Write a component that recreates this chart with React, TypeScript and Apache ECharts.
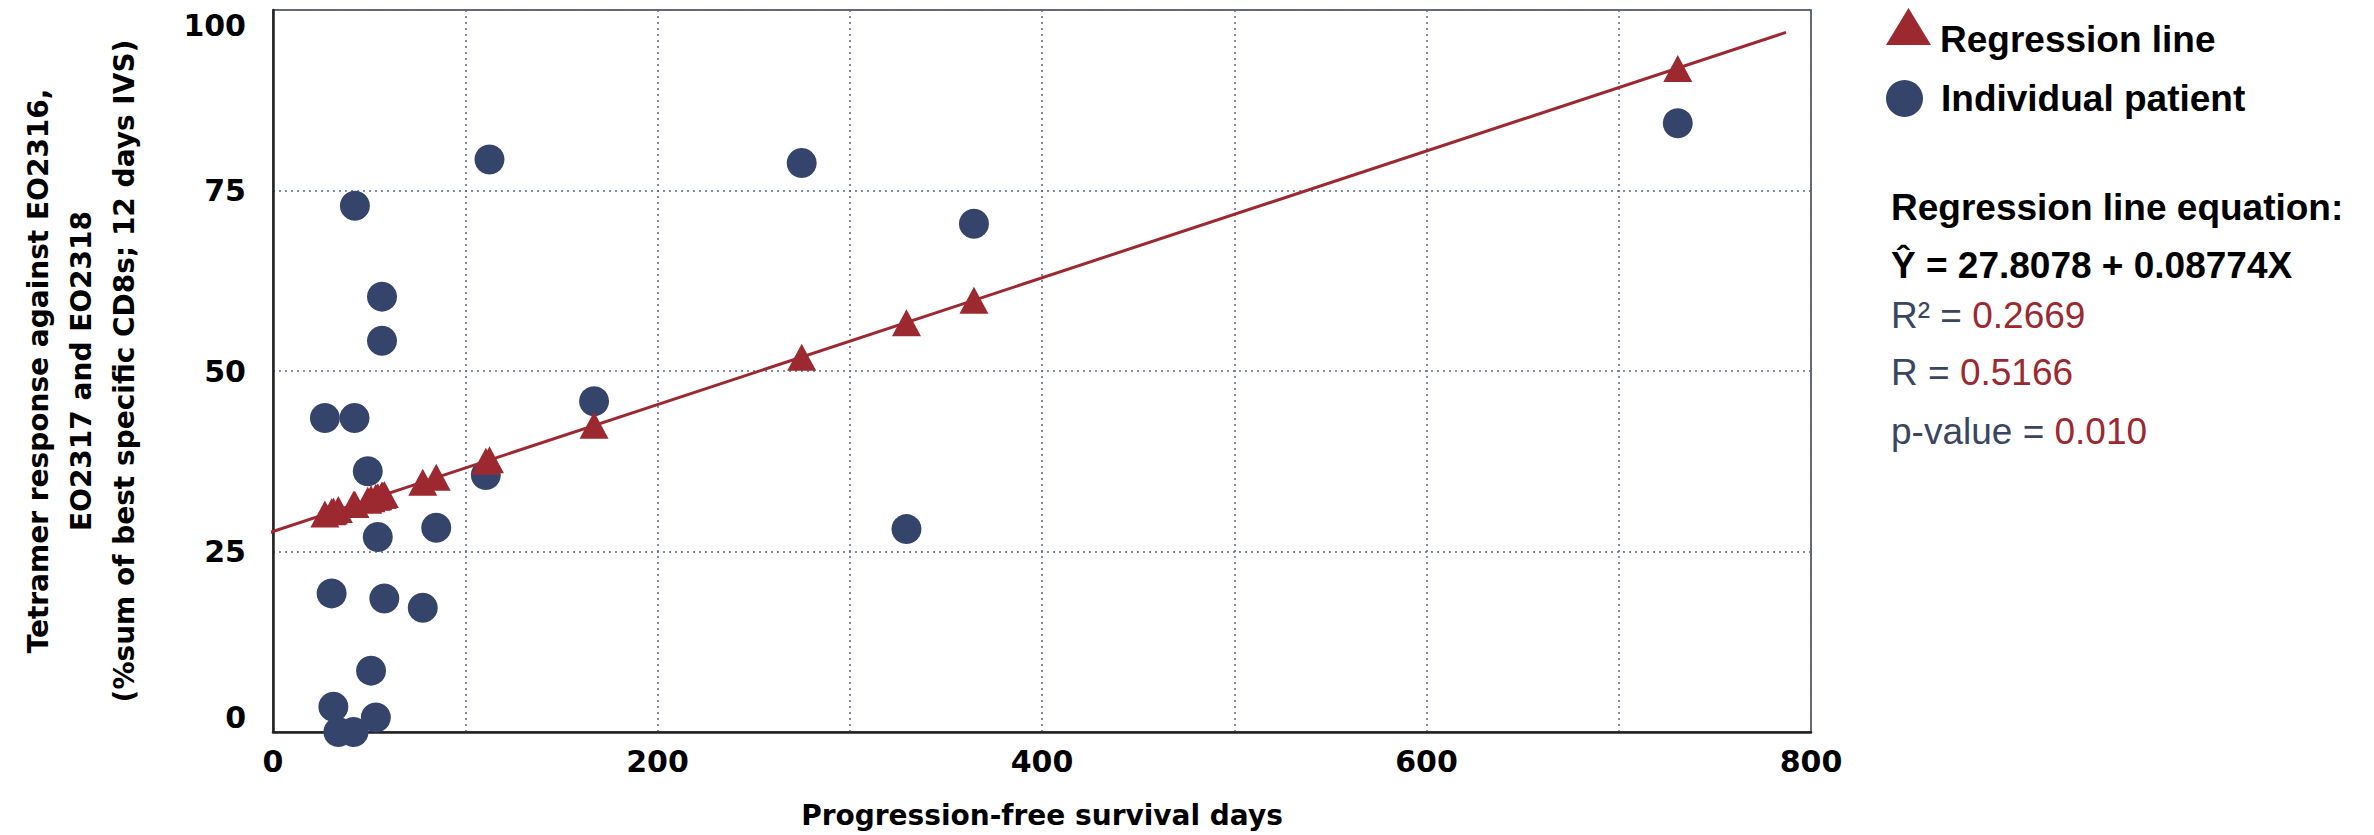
import React, { useEffect, useRef } from "react";
import * as echarts from "echarts";

// Individual patients: progression-free survival days vs tetramer response
const patientDays = [27.0, 42.4, 42.6, 56.7, 56.7, 49.3, 112.6, 275.0, 364.6, 730.7, 167.0, 110.7, 329.5, 54.5, 84.9, 30.5, 57.9, 77.9, 51.0, 31.4, 53.5, 34.0, 41.9];
const patientResponse = [43.5, 43.5, 72.9, 60.3, 54.2, 36.1, 79.3, 78.8, 70.4, 84.3, 45.8, 35.6, 28.1, 27.0, 28.3, 19.2, 18.5, 17.2, 8.5, 3.5, 2.0, 0.0, 0.0];

// Fitted values (triangles)
const fitDays = [27.0, 30.5, 31.4, 34.0, 41.9, 42.4, 42.6, 49.3, 51.0, 53.5, 54.5, 56.7, 56.7, 57.9, 77.9, 84.9, 110.7, 112.6, 167.0, 275.0, 329.5, 364.6, 730.7];
const fitResponse = [30.2, 30.5, 30.6, 30.8, 31.5, 31.5, 31.5, 32.1, 32.3, 32.5, 32.6, 32.8, 32.8, 32.9, 34.6, 35.3, 37.5, 37.7, 42.5, 51.9, 56.7, 59.8, 91.9];

// Regression line end points
const lineDays = [-10, 787];
const lineResponse = [26.9, 96.9];

const xTickLabels = ["0", "200", "400", "600", "800"];
const statLines = [
  { label: "R² = ", value: "0.2669" },
  { label: "R = ", value: "0.5166" },
  { label: "p-value = ", value: "0.010" },
];

const NAVY = "#34446a";
const RED = "#9c2830";
const AXIS_FONT = '"DejaVu Sans", Verdana, sans-serif';
const TEXT_FONT = '"Liberation Sans", Arial, sans-serif';

export default function App() {
  const ref = useRef<HTMLDivElement>(null);

  useEffect(() => {
    if (!ref.current) return;
    const chart = echarts.init(ref.current, undefined, { renderer: "svg" });

    const patients = patientDays.map((d, i) => [d, patientResponse[i]]);
    const fits = fitDays.map((d, i) => [d, fitResponse[i]]);
    const line = lineDays.map((d, i) => [d, lineResponse[i]]);

    const statY = [315, 372, 431];

    const legendText = {
      fontFamily: TEXT_FONT,
      fontWeight: "bold",
      fontSize: 37,
      color: "#000",
    };

    const gridLine = { type: [2, 4], color: "#5a6794", width: 1.5 };

    chart.setOption({
      animation: false,
      backgroundColor: "#ffffff",
      grid: {
        left: 273,
        right: 563,
        top: 10,
        bottom: 103,
        show: true,
        borderColor: "#3a3a3a",
        borderWidth: 1.5,
        backgroundColor: "transparent",
      },
      legend: [
        {
          orient: "vertical",
          left: 1881,
          top: 3,
          itemWidth: 45,
          itemHeight: 37,
          selectedMode: false,
          formatter: "{t|{name}}",
          textStyle: {
            ...legendText,
            padding: [0, 0, 0, 4],
            rich: {
              t: { ...legendText, padding: [26, 0, 0, 0] },
            },
          },
          data: [{ name: "Regression line", icon: "triangle" }],
        },
        {
          orient: "vertical",
          left: 1881,
          top: 75,
          itemWidth: 45,
          itemHeight: 37,
          selectedMode: false,
          textStyle: { ...legendText, padding: [0, 0, 0, 9] },
          data: [{ name: "Individual patient", icon: "circle" }],
        },
      ],
      xAxis: {
        type: "value",
        min: 0,
        max: 800,
        interval: 100,
        name: "Progression-free survival days",
        nameLocation: "middle",
        nameGap: 69,
        nameTextStyle: {
          fontFamily: AXIS_FONT,
          fontWeight: "bold",
          fontSize: 28,
          color: "#000",
        },
        axisLine: { show: true, lineStyle: { color: "#222", width: 2.5 } },
        axisTick: { show: false },
        axisLabel: {
          margin: 14,
          fontFamily: AXIS_FONT,
          fontWeight: "bold",
          fontSize: 30,
          color: "#000",
          formatter: (v: number) => {
            const s = String(v);
            return xTickLabels.includes(s) ? s : "";
          },
        },
        splitLine: { show: true, lineStyle: gridLine },
      },
      yAxis: {
        type: "value",
        min: 0,
        max: 100,
        interval: 25,
        name: "Tetramer response against EO2316,\nEO2317 and EO2318\n(%sum of best specific CD8s; 12 days IVS)",
        nameLocation: "middle",
        nameRotate: 90,
        nameGap: 127,
        nameTextStyle: {
          fontFamily: AXIS_FONT,
          fontWeight: "bold",
          fontSize: 28,
          lineHeight: 43,
          color: "#000",
          align: "center",
        },
        axisLine: { show: true, lineStyle: { color: "#222", width: 2.5 } },
        axisTick: { show: false },
        axisLabel: {
          margin: 27,
          fontFamily: AXIS_FONT,
          fontWeight: "bold",
          fontSize: 30,
          color: "#000",
          verticalAlignMinLabel: "bottom",
          verticalAlignMaxLabel: "top",
        },
        splitLine: { show: true, lineStyle: gridLine },
      },
      series: [
        {
          name: "Individual patient",
          type: "scatter",
          symbol: "circle",
          symbolSize: 30,
          clip: false,
          itemStyle: { color: NAVY, opacity: 1 },
          data: patients,
          z: 2,
        },
        {
          name: "fit",
          type: "line",
          showSymbol: false,
          symbol: "none",
          clip: false,
          silent: true,
          lineStyle: { color: RED, width: 3 },
          data: line,
          z: 3,
        },
        {
          name: "Regression line",
          type: "scatter",
          symbol: "triangle",
          symbolSize: [29, 27],
          clip: false,
          itemStyle: { color: RED, opacity: 1 },
          data: fits,
          z: 4,
        },
      ],
      graphic: [
        {
          type: "text",
          x: 1891,
          y: 207,
          style: {
            text: "Regression line equation:",
            font: `bold 37px ${TEXT_FONT}`,
            fill: "#000",
            verticalAlign: "middle",
          },
        },
        {
          type: "text",
          x: 1891,
          y: 265,
          style: {
            text: "Ŷ = 27.8078 + 0.08774X",
            font: `bold 37px ${TEXT_FONT}`,
            fill: "#000",
            verticalAlign: "middle",
          },
        },
        ...statLines.map((s, i) => ({
          type: "text",
          x: 1891,
          y: statY[i],
          style: {
            text: `{l|${s.label}}{v|${s.value}}`,
            verticalAlign: "middle",
            rich: {
              l: { fontFamily: TEXT_FONT, fontSize: 37, fill: "#3a4660", color: "#3a4660" },
              v: { fontFamily: TEXT_FONT, fontSize: 37, fill: RED, color: RED },
            },
          },
        })),
      ],
    });

    return () => chart.dispose();
  }, []);

  return (
    <div
      ref={ref}
      style={{ position: "absolute", left: 0, top: 0, width: 2374, height: 835, background: "#fff" }}
    />
  );
}
